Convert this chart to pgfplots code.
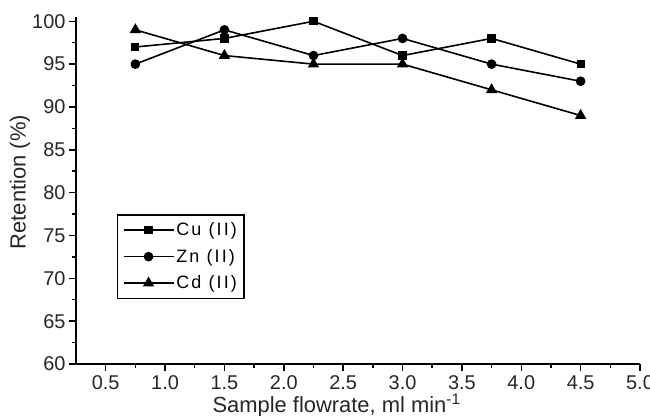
\documentclass[border=0pt]{standalone}
\usepackage{fontspec}
\setmainfont{Liberation Sans}
\usepackage{pgfplots}
\pgfplotsset{compat=1.18}
\begin{document}
\begin{tikzpicture}
\begin{axis}[
  at={(0,0)}, anchor=south west,
  scale only axis, width=564bp, height=347bp,
  xmin=0.25, xmax=5.0, ymin=60, ymax=100.5,
  axis x line*=bottom, axis y line*=left,
  axis line style={line width=1.6bp, -},
  xtick={0.5,1,1.5,2,2.5,3,3.5,4,4.5,5},
  ytick={60,65,70,75,80,85,90,95,100},
  minor x tick num=1, minor y tick num=1,
  tick align=outside, major tick length=7bp, minor tick length=4bp,
  every tick/.style={line width=1.5bp, black},
  /pgf/number format/assume math mode=true,
  x tick label style={/pgf/number format/fixed, /pgf/number format/fixed zerofill, /pgf/number format/precision=1, yshift=-1bp},
  tick label style={font=\fontsize{20}{20}\selectfont, text=black!85},
  xlabel={Sample flowrate, ml min\textsuperscript{-1}},
  ylabel={Retention (\%)},
  every axis x label/.style={at={([yshift=-48bp]rel axis cs:0.462,0)}, anchor=base,
    font=\fontsize{22}{22}\selectfont, text=black!85},
  every axis y label/.style={at={([xshift=-56bp]rel axis cs:0,0.524)}, anchor=center, rotate=90,
    font=\fontsize{22}{22}\selectfont, text=black!85},
  legend style={at={(rel axis cs:0.0727,0.187)}, anchor=south west,
    draw=black, line width=1.5bp, inner xsep=5bp, inner ysep=6bp,
    font=\fontsize{18}{18}\selectfont\addfontfeatures{LetterSpace=12},
    row sep=8bp, cells={anchor=west}},
  legend cell align=left,
  legend image code/.code={\draw[mark repeat=2, mark phase=2] plot coordinates {(0bp,0bp) (25bp,0bp) (50bp,0bp)};},
  every axis plot/.append style={black, line width=1.6bp},
]
\addplot[mark=square*, mark size=3.3bp, mark options={solid}] coordinates {
  (0.75,97) (1.5,98) (2.25,100) (3.0,96) (3.75,98) (4.5,95)};
\addlegendentry{Cu (II)}
\addplot[mark=*, mark size=4bp, mark options={solid}] coordinates {
  (0.75,95) (1.5,99) (2.25,96) (3.0,98) (3.75,95) (4.5,93)};
\addlegendentry{Zn (II)}
\addplot[mark=triangle*, mark size=5bp, mark options={solid}] coordinates {
  (0.75,99) (1.5,96) (2.25,95) (3.0,95) (3.75,92) (4.5,89)};
\addlegendentry{Cd (II)}
\end{axis}
\pgfresetboundingbox
\useasboundingbox (-76bp,-52bp) rectangle (574bp,364bp);
\end{tikzpicture}
\end{document}
